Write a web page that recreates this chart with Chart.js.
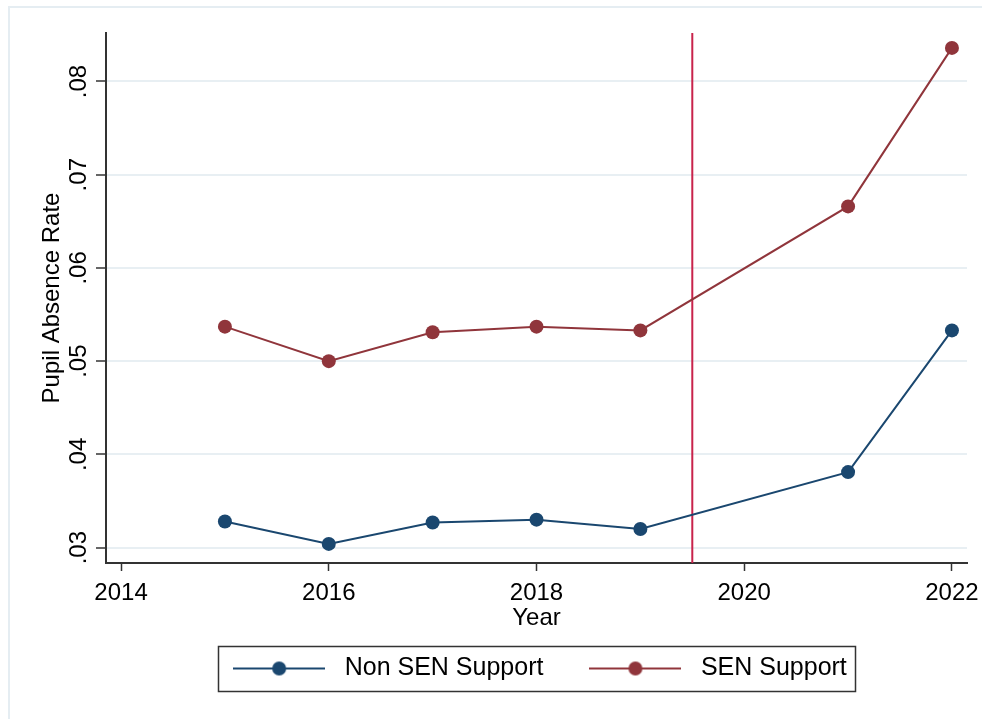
<!DOCTYPE html>
<html>
<head>
<meta charset="utf-8">
<script src="https://cdn.jsdelivr.net/npm/chart.js@4.4.1/dist/chart.umd.min.js"></script>
<style>
  html, body { margin: 0; padding: 0; background: #fff; }
  #wrap { position: relative; width: 982px; height: 719px; }
</style>
</head>
<body>
<div id="wrap"><canvas id="absenceChart" width="982" height="719"></canvas></div>
<script>
// Pupil absence by year, split by SEN support status
const years = [2015, 2016, 2017, 2018, 2019, 2021, 2022];
const nonSenRate = [0.0328, 0.0304, 0.0327, 0.0330, 0.0320, 0.0381, 0.0533];
const senRate = [0.0537, 0.0500, 0.0531, 0.0537, 0.0533, 0.0666, 0.0836];
const seriesLabels = ['Non SEN Support', 'SEN Support'];
const xTicks = [2014, 2016, 2018, 2020, 2022];
const yTicks = [0.03, 0.04, 0.05, 0.06, 0.07, 0.08];
const cutoffYear = 2019.5;

const navy = '#1a476f';
const maroon = '#90353b';
const fontFamily = '"Liberation Sans", Arial, sans-serif';

// small line-dot-line glyph for the legend
function legendGlyph(color) {
    const c = document.createElement('canvas');
    c.width = 92;
    c.height = 16;
    const g = c.getContext('2d');
    g.strokeStyle = color;
    g.lineWidth = 2;
    g.beginPath();
    g.moveTo(0, 8);
    g.lineTo(92, 8);
    g.stroke();
    g.fillStyle = color;
    g.beginPath();
    g.arc(46, 8, 7, 0, Math.PI * 2);
    g.fill();
    return c;
}

function toPoints(values) {
    return years.map((yr, i) => ({ x: yr, y: values[i] }));
}

// light outer frame round the whole graph
const framePlugin = {
    id: 'frame',
    beforeDraw(chart) {
        const ctx = chart.ctx;
        ctx.save();
        ctx.fillStyle = '#fff';
        ctx.fillRect(0, 0, chart.width, chart.height);
        ctx.strokeStyle = '#e5edf2';
        ctx.lineWidth = 2;
        ctx.beginPath();
        ctx.moveTo(9, chart.height);
        ctx.lineTo(9, 7);
        ctx.lineTo(chart.width, 7);
        ctx.stroke();
        ctx.restore();
    }
};

// vertical reference line between 2019 and 2021
const cutoffPlugin = {
    id: 'cutoff',
    beforeDatasetsDraw(chart) {
        const x = chart.scales.x.getPixelForValue(cutoffYear);
        const area = chart.chartArea;
        const ctx = chart.ctx;
        ctx.save();
        ctx.strokeStyle = '#c8234b';
        ctx.lineWidth = 2;
        ctx.beginPath();
        ctx.moveTo(x, area.top);
        ctx.lineTo(x, area.bottom);
        ctx.stroke();
        ctx.restore();
    }
};

// box drawn round the legend entries
const legendBoxPlugin = {
    id: 'legendBox',
    afterDraw(chart) {
        const boxes = chart.legend.legendHitBoxes;
        if (!boxes || !boxes.length) return;
        const first = boxes[0];
        const last = boxes[boxes.length - 1];
        const left = first.left - 8;
        const right = last.left + last.width + 8;
        const midY = first.top + first.height / 2;
        const ctx = chart.ctx;
        ctx.save();
        ctx.strokeStyle = '#333';
        ctx.lineWidth = 1.5;
        ctx.strokeRect(Math.round(left) + 0.5, Math.round(midY - 23) + 0.5, Math.round(right - left), 45);
        ctx.restore();
    }
};

const ctx = document.getElementById('absenceChart').getContext('2d');
const absenceChart = new Chart(ctx, {
    type: 'line',
    data: {
        datasets: [
            {
                label: seriesLabels[0],
                data: toPoints(nonSenRate),
                borderColor: navy,
                backgroundColor: navy,
                borderWidth: 2,
                pointRadius: 7,
                pointBorderWidth: 0,
                pointStyle: 'circle',
                tension: 0
            },
            {
                label: seriesLabels[1],
                data: toPoints(senRate),
                borderColor: maroon,
                backgroundColor: maroon,
                borderWidth: 2,
                pointRadius: 7,
                pointBorderWidth: 0,
                pointStyle: 'circle',
                tension: 0
            }
        ]
    },
    options: {
        responsive: false,
        animation: false,
        layout: {
            padding: { top: 33, right: 15, left: 0, bottom: 28 }
        },
        scales: {
            x: {
                type: 'linear',
                min: 2013.855,
                max: 2022.145,
                afterBuildTicks: scale => { scale.ticks = xTicks.map(v => ({ value: v })); },
                afterFit: scale => {
                    scale.height = 54;
                    scale.paddingRight = 0;
                },
                border: { display: true, color: '#333', width: 2 },
                grid: {
                    drawOnChartArea: false,
                    drawTicks: true,
                    tickLength: 8,
                    tickColor: '#333',
                    tickWidth: 1.5
                },
                ticks: {
                    color: '#000',
                    padding: 8,
                    maxRotation: 0,
                    font: { family: fontFamily, size: 24 },
                    callback: v => String(v)
                },
                title: {
                    display: true,
                    text: 'Year',
                    color: '#000',
                    padding: { top: 0, bottom: -16 },
                    font: { family: fontFamily, size: 24 }
                }
            },
            y: {
                type: 'linear',
                min: 0.02835,
                max: 0.0852,
                afterBuildTicks: scale => { scale.ticks = yTicks.map(v => ({ value: v })); },
                afterFit: scale => { scale.width = 106; },
                border: { display: true, color: '#333', width: 2 },
                grid: {
                    color: '#e8eff3',
                    lineWidth: 2,
                    drawTicks: true,
                    tickLength: 10,
                    tickColor: '#333',
                    tickWidth: 1.5
                },
                ticks: {
                    color: '#000',
                    padding: 0,
                    minRotation: 90,
                    maxRotation: 90,
                    crossAlign: 'center',
                    font: { family: fontFamily, size: 24 },
                    callback: v => v.toFixed(2).replace(/^0/, '')
                },
                title: {
                    display: true,
                    text: 'Pupil Absence Rate',
                    color: '#000',
                    padding: { top: 38, bottom: 0 },
                    font: { family: fontFamily, size: 24 }
                }
            }
        },
        plugins: {
            legend: {
                position: 'bottom',
                fullSize: false,
                labels: {
                    usePointStyle: true,
                    pointStyleWidth: 106,
                    boxHeight: 16,
                    padding: 39,
                    color: '#000',
                    font: { family: fontFamily, size: 25 },
                    generateLabels: chart => chart.data.datasets.map((ds, i) => ({
                        text: ds.label,
                        datasetIndex: i,
                        pointStyle: legendGlyph(ds.borderColor),
                        fillStyle: ds.borderColor,
                        strokeStyle: ds.borderColor,
                        lineWidth: 0,
                        hidden: false
                    }))
                }
            },
            tooltip: { enabled: false }
        }
    },
    plugins: [framePlugin, cutoffPlugin, legendBoxPlugin]
});
</script>
</body>
</html>
